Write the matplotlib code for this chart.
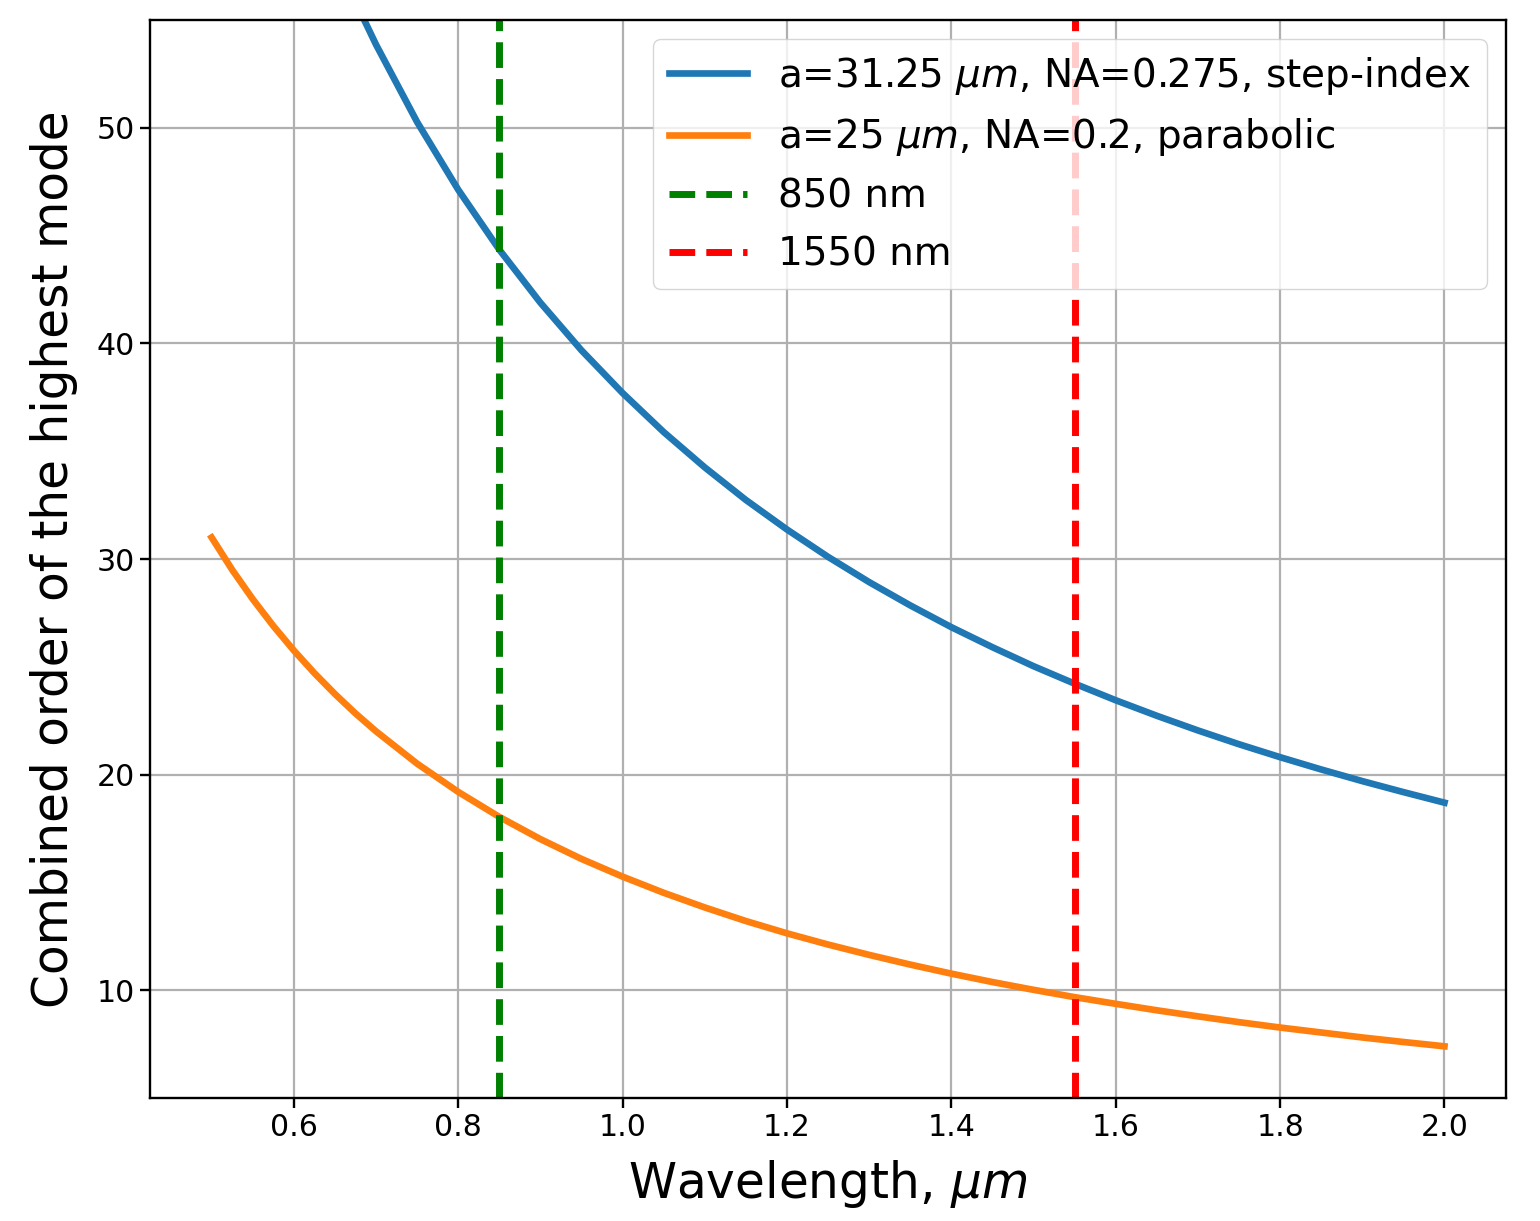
import matplotlib

matplotlib.use("Agg")
import matplotlib.pyplot as plt

# Longitud de onda (µm) y orden combinado del modo más alto
wavelength = [0.500, 0.525, 0.550, 0.575, 0.600, 0.625, 0.650, 0.675, 0.70, 0.75,
              0.80, 0.85, 0.90, 0.95, 1.00, 1.05, 1.10, 1.15, 1.20, 1.25,
              1.30, 1.35, 1.40, 1.45, 1.50, 1.55, 1.60, 1.65, 1.70, 1.75,
              1.80, 1.85, 1.90, 1.95, 2.00]
order_step = [75.40, 71.81, 68.55, 65.57, 62.83, 60.32, 58.00, 55.85, 53.86, 50.27,
              47.13, 44.35, 41.89, 39.68, 37.70, 35.89, 34.25, 32.74, 31.37, 30.10,
              28.93, 27.85, 26.84, 25.91, 25.03, 24.22, 23.45, 22.73, 22.05, 21.41,
              20.81, 20.24, 19.70, 19.19, 18.70]
order_parab = [31.00, 29.50, 28.14, 26.90, 25.76, 24.71, 23.74, 22.84, 22.01, 20.51,
               19.20, 18.04, 17.01, 16.09, 15.27, 14.52, 13.84, 13.21, 12.64, 12.12,
               11.64, 11.19, 10.77, 10.38, 10.02, 9.68, 9.37, 9.07, 8.79, 8.52,
               8.27, 8.04, 7.81, 7.60, 7.40]
lines_um = [0.85, 1.55]

fig = plt.figure(figsize=(15.4, 12.21), dpi=100)
ax = fig.add_axes([0.0974, 0.1007, 0.8806, 0.8829])

ax.plot(wavelength, order_step, color="#1f77b4", linewidth=4.8,
        label=r"a=31.25 $\mu m$, NA=0.275, step-index")
ax.plot(wavelength, order_parab, color="#ff7f0e", linewidth=4.8,
        label=r"a=25 $\mu m$, NA=0.2, parabolic")
ax.axvline(lines_um[0], color="green", linestyle="--", linewidth=5, label="850 nm")
ax.axvline(lines_um[1], color="red", linestyle="--", linewidth=5, label="1550 nm")

ax.set_ylim(5, 55)
ax.grid(True, linewidth=1.6)
ax.tick_params(labelsize=21.6, width=1.7, length=7.5)
for s in ax.spines.values():
    s.set_linewidth(1.7)
ax.set_xlabel(r"Wavelength, $\mu m$", fontsize=35, labelpad=11)
ax.set_ylabel("Combined order of the highest mode", fontsize=35, labelpad=13)
ax.legend(loc="upper right", fontsize=28)

fig.savefig("out.png", dpi=100)
